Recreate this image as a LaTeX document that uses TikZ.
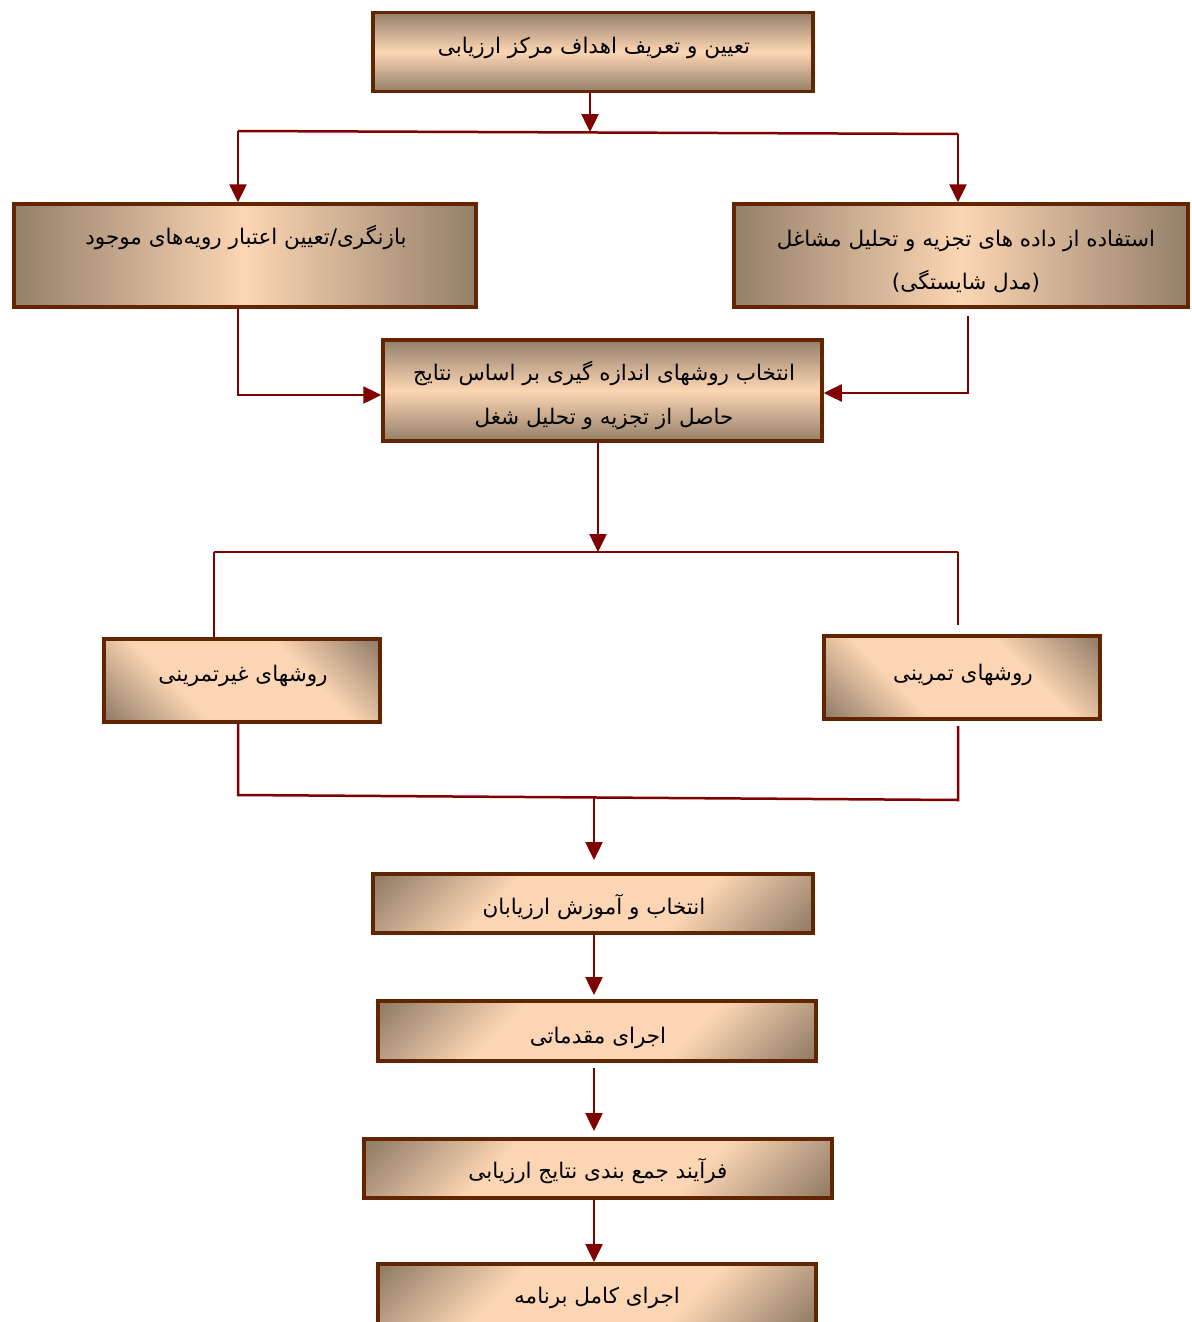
\documentclass[tikz,border=0pt]{standalone}
\usepackage{fontspec}
\newfontfamily\fa[Script=Arabic]{DejaVu Sans}
\TeXXeTstate=1
\usetikzlibrary{arrows.meta}
\definecolor{lt}{RGB}{252,214,180}
\definecolor{dk}{RGB}{148,127,105}
\definecolor{bd}{RGB}{99,36,0}
\definecolor{ln}{RGB}{128,0,0}
\pgfdeclareverticalshading{diagsh}{100bp}{color(0bp)=(dk); color(16bp)=(dk); color(36bp)=(lt); color(64bp)=(lt); color(84bp)=(dk); color(100bp)=(dk)}
\tikzset{
  box/.style={draw=bd, line width=3.5pt, inner sep=0pt},
  vsh/.style={top color=dk, bottom color=dk, middle color=lt},
  hsh/.style={left color=dk, right color=dk, middle color=lt},
  dsh/.style={shade, shading=diagsh, shading angle=45},
  esh/.style={shade, shading=diagsh, shading angle=-45},
  txt/.style={anchor=base, inner sep=0pt, font=\fa\fontsize{21.5}{30}\selectfont},
  conn/.style={draw=ln, line width=2.5pt},
  arr/.style={conn, -{Triangle[length=18pt,width=17pt]}},
}
\begin{document}
\begin{tikzpicture}[x=1pt, y=-1pt]
\useasboundingbox (0,0) rectangle (1191,1322);
% boxes
\node[box, vsh, minimum width=440pt, minimum height=79pt] (b1) at (593,52) {};
\node[box, hsh, minimum width=462pt, minimum height=103pt] (b2) at (245,255.5) {};
\node[box, hsh, minimum width=454pt, minimum height=103pt] (b3) at (961,255.5) {};
\node[box, vsh, minimum width=439pt, minimum height=101pt] (b4) at (602.5,390.5) {};
\node[box, esh, minimum width=276pt, minimum height=83pt] (b5) at (242,680.5) {};
\node[box, esh, minimum width=276pt, minimum height=83pt] (b6) at (962,677.5) {};
\node[box, dsh, minimum width=440pt, minimum height=59pt] (b7) at (593,903.5) {};
\node[box, dsh, minimum width=438pt, minimum height=60pt] (b8) at (597,1031) {};
\node[box, dsh, minimum width=468pt, minimum height=59pt] (b9) at (598,1168.5) {};
\node[box, dsh, minimum width=438pt, minimum height=62pt] (b10) at (597,1295) {};
% texts
\node[txt] (t1) at (594,53) {\beginR تعیین و  تعریف اهداف مرکز ارزیابی\endR};
\node[txt] (t2) at (246,244) {\beginR بازنگری/تعیین اعتبار رویه‌های موجود\endR};
\node[txt] (t3a) at (966,246) {\beginR استفاده از داده های تجزیه  و تحلیل مشاغل\endR};
\node[txt] (t3b) at (966,289) {\beginR (مدل شایستگی)\endR};
\node[txt] (t4a) at (604,380) {\beginR انتخاب روشهای اندازه گیری بر اساس نتایج\endR};
\node[txt] (t4b) at (604,424) {\beginR حاصل از تجزیه و تحلیل شغل\endR};
\node[txt] (t5) at (243,681) {\beginR روشهای غیرتمرینی\endR};
\node[txt] (t6) at (963,680) {\beginR روشهای تمرینی\endR};
\node[txt] (t7) at (594,914) {\beginR انتخاب و آموزش ارزیابان\endR};
\node[txt] (t8) at (598,1043) {\beginR اجرای مقدماتی\endR};
\node[txt] (t9) at (598,1178) {\beginR فرآیند جمع بندی نتایج ارزیابی\endR};
\node[txt] (t10) at (597,1303) {\beginR اجرای کامل برنامه\endR};
% connector points
\coordinate (j1) at (590,132);
\coordinate (h1l) at (238,131);
\coordinate (h1r) at (958,134);
\coordinate (c2) at (238,395);
\coordinate (c3a) at (968,316);
\coordinate (c3b) at (968,393);
\coordinate (j2) at (598,552);
\coordinate (h2l) at (214,552);
\coordinate (h2r) at (958,552);
\coordinate (c6t) at (958,625);
\coordinate (h3l) at (238,795);
\coordinate (h3r) at (958,800);
\coordinate (c6b) at (958,726);
\coordinate (j3) at (594,798);
\coordinate (a7) at (594,860);
\coordinate (a8) at (594,995);
\coordinate (s9) at (594,1068);
\coordinate (a9) at (594,1131);
\coordinate (a10) at (594,1262);
% connectors
\draw[arr] (b1.south -| j1) -- (j1);
\draw[conn] (h1l) -- (h1r);
\draw[arr] (h1l) -- (b2.north -| h1l);
\draw[arr] (h1r) -- (b3.north -| h1r);
\draw[arr] (b2.south -| c2) -- (c2) -- (c2 -| b4.west);
\draw[arr] (c3a) -- (c3b) -- (c3b -| b4.east);
\draw[arr] (b4.south -| j2) -- (j2);
\draw[conn] (h2l) -- (h2r);
\draw[conn] (h2l) -- (h2l |- b5.north);
\draw[conn] (h2r) -- (c6t);
\draw[conn] (b5.south -| h3l) -- (h3l) -- (h3r) -- (c6b);
\draw[arr] (j3) -- (a7);
\draw[arr] (b7.south -| a8) -- (a8);
\draw[arr] (s9) -- (a9);
\draw[arr] (b9.south -| a10) -- (a10);
\end{tikzpicture}
\end{document}
